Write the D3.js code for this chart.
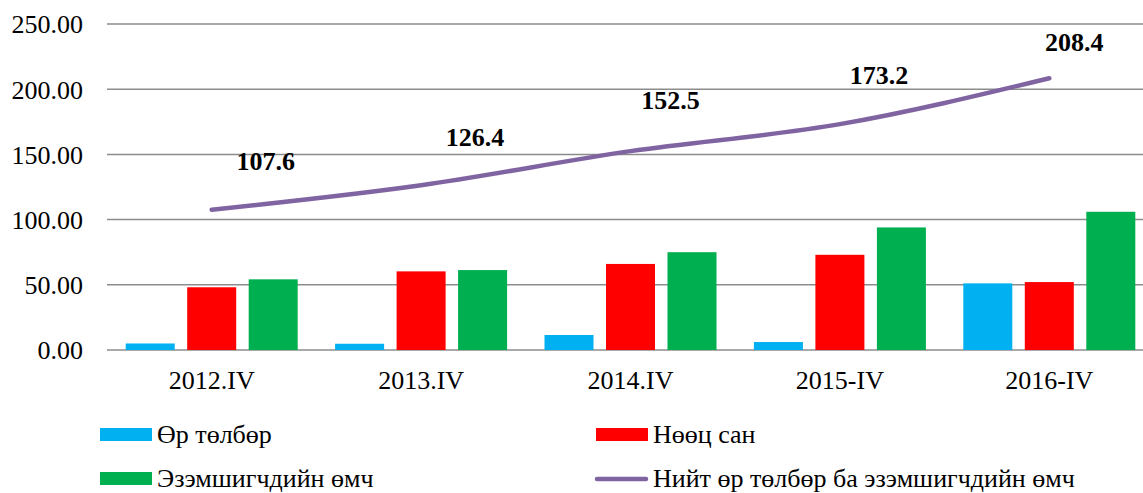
<!DOCTYPE html>
<html>
<head>
<meta charset="utf-8">
<script src="https://cdn.jsdelivr.net/npm/d3@7"></script>
<style>
  body { margin: 0; background: #fff; }
  #chart text { font-family: "Liberation Serif", "Times New Roman", "DejaVu Serif", serif !important; fill: #000; }
</style>
</head>
<body>
<svg id="chart" width="1143" height="493"></svg>
<script>
// өгөгдөл
const categories = ['2012.IV', '2013.IV', '2014.IV', '2015-IV', '2016-IV']
const orTolbor = [5.0, 4.8, 11.5, 6.1, 51.1]
const noocSan = [48.1, 60.3, 66.0, 73.0, 52.1]
const ezemshigch = [54.2, 61.3, 75.0, 94.0, 106.0]
const niit = [107.6, 126.4, 152.5, 173.2, 208.4]
const yTicks = [0, 50, 100, 150, 200, 250]

const barSeries = [
  { name: 'Өр төлбөр', values: orTolbor, color: '#00B0F0' },
  { name: 'Нөөц сан', values: noocSan, color: '#FF0000' },
  { name: 'Эзэмшигчдийн өмч', values: ezemshigch, color: '#00B050' },
]
const lineName = 'Нийт өр төлбөр ба эзэмшигчдийн өмч'
const lineColor = '#8064A2'
const serif = '"Liberation Serif", "Times New Roman", serif'
const fontSize = 26

// шошгоны байрлалын засвар
const labelShift = [[54, -49], [54, -48], [40, -51], [39, -49], [25, -36]]

const svg = d3.select('#chart')
const plotLeft = 107
const plotRight = 1154
const plotTop = 24
const plotBottom = 350

const x = d3.scaleBand()
  .domain(categories)
  .range([plotLeft, plotRight])
const xInner = d3.scaleBand()
  .domain(d3.range(barSeries.length))
  .range([0, x.bandwidth()])
  .paddingInner(0.203)
  .paddingOuter(0.304)
const y = d3.scaleLinear()
  .domain([0, 250])
  .range([plotBottom, plotTop])

// сүлжээ
svg.append('g')
  .selectAll('line')
  .data(yTicks)
  .enter()
  .append('line')
  .attr('x1', plotLeft)
  .attr('x2', plotRight)
  .attr('y1', d => y(d))
  .attr('y2', d => y(d))
  .attr('stroke', '#8c8c8c')
  .attr('stroke-width', 1.5)

// y тэнхлэг
const yAxis = svg.append('g')
  .attr('transform', `translate(${plotLeft - 24},0)`)
  .call(d3.axisLeft(y).tickValues(yTicks).tickFormat(d3.format('.2f')).tickSize(0).tickPadding(0))
yAxis.attr('font-family', serif)
yAxis.select('.domain').remove()
yAxis.selectAll('text')
  .attr('font-size', fontSize)
  .attr('dy', '0.34em')

// x тэнхлэг
const xAxis = svg.append('g')
  .attr('transform', `translate(0,${plotBottom})`)
  .call(d3.axisBottom(x).tickSize(0).tickPadding(21))
xAxis.attr('font-family', serif)
xAxis.select('.domain').remove()
xAxis.selectAll('text')
  .attr('font-size', fontSize)

// баганууд
barSeries.forEach((s, i) => {
  svg.append('g')
    .selectAll('rect')
    .data(s.values)
    .enter()
    .append('rect')
    .attr('x', (d, j) => x(categories[j]) + xInner(i))
    .attr('width', xInner.bandwidth())
    .attr('y', d => y(d))
    .attr('height', d => plotBottom - y(d))
    .attr('fill', s.color)
})

// шугам
const lineGen = d3.line()
  .x((d, i) => x(categories[i]) + x.bandwidth() / 2)
  .y(d => y(d))
  .curve(d3.curveMonotoneX)
svg.append('path')
  .datum(niit)
  .attr('d', lineGen)
  .attr('fill', 'none')
  .attr('stroke', lineColor)
  .attr('stroke-width', 4.5)
  .attr('stroke-linecap', 'round')

svg.append('g')
  .selectAll('text')
  .data(niit)
  .enter()
  .append('text')
  .attr('x', (d, i) => x(categories[i]) + x.bandwidth() / 2 + labelShift[i][0])
  .attr('y', (d, i) => y(d) + labelShift[i][1])
  .attr('dy', '0.35em')
  .attr('text-anchor', 'middle')
  .attr('font-family', serif)
  .attr('font-size', fontSize)
  .attr('font-weight', 'bold')
  .text(d => d3.format('.1f')(d))

// тайлбар
const legendItems = [
  { name: barSeries[0].name, color: barSeries[0].color, type: 'rect', lx: 100, ly: 435 },
  { name: barSeries[1].name, color: barSeries[1].color, type: 'rect', lx: 596, ly: 435 },
  { name: barSeries[2].name, color: barSeries[2].color, type: 'rect', lx: 100, ly: 479 },
  { name: lineName, color: lineColor, type: 'line', lx: 596, ly: 479 },
]
const legend = svg.append('g')
  .selectAll('g')
  .data(legendItems)
  .enter()
  .append('g')
  .attr('transform', d => `translate(${d.lx},${d.ly})`)
legend.filter(d => d.type === 'rect')
  .append('rect')
  .attr('x', 0)
  .attr('y', -7)
  .attr('width', 52)
  .attr('height', 13)
  .attr('fill', d => d.color)
legend.filter(d => d.type === 'line')
  .append('line')
  .attr('x1', 1)
  .attr('x2', 50)
  .attr('y1', 0)
  .attr('y2', 0)
  .attr('stroke', d => d.color)
  .attr('stroke-width', 4.5)
  .attr('stroke-linecap', 'round')
legend.append('text')
  .attr('x', 57)
  .attr('y', 0)
  .attr('dy', '0.32em')
  .attr('font-family', serif)
  .attr('font-size', fontSize)
  .text(d => d.name)
</script>
</body>
</html>
